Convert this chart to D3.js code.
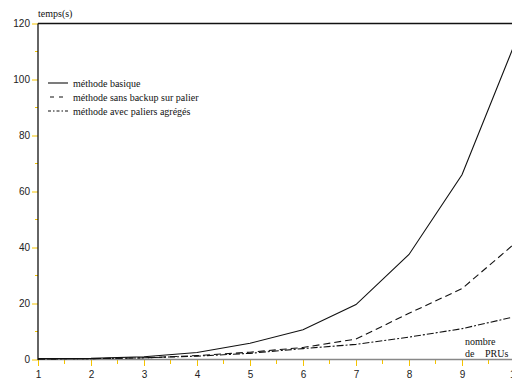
<!DOCTYPE html>
<html><head><meta charset="utf-8">
<script src="https://cdn.jsdelivr.net/npm/d3@7"></script>
<style>body{margin:0;background:#fff}svg{display:block}</style>
</head><body>
<svg id="c" width="512" height="383"></svg>
<script>
const prus = [1,2,3,4,5,6,7,8,9,10];
const basique = [0.3,0.4,1.0,2.5,5.8,10.6,19.6,37.5,66,113];
const sansBackup = [0.2,0.3,0.6,1.4,2.6,4.3,7.3,16.5,25.3,41.5];
const agreges = [0.2,0.3,0.6,1.2,2.2,3.9,5.4,8,11,15.3];
const seriesNames = ["méthode basique","méthode sans backup sur palier","méthode avec paliers agrégés"];
const yTicks = [0,20,40,60,80,100,120];
const xTicks = [1,2,3,4,5,6,7,8,9,10];

const svg = d3.select("#c");
const x = d3.scaleLinear().domain([1,10]).range([38,515]);
const y = d3.scaleLinear().domain([0,120]).range([359.5,23.5]);
const dashes = [null,"7,4","7,2,2,2"];
const series = [basique,sansBackup,agreges];
const tickCol = "#f5c400";
const sans = "'Liberation Sans', Arial, sans-serif";
const serif = "'Liberation Serif', 'Times New Roman', serif";

// minor ticks
const yMinor = d3.range(10,120,20);
svg.selectAll(".ym").data(yMinor).join("line")
  .attr("x1",35).attr("x2",38).attr("y1",d=>y(d)).attr("y2",d=>y(d))
  .attr("stroke",tickCol).attr("stroke-width",1);
const xMinor = d3.range(1.5,10,1);
svg.selectAll(".xm").data(xMinor).join("line")
  .attr("x1",d=>x(d)).attr("x2",d=>x(d)).attr("y1",360).attr("y2",364)
  .attr("stroke",tickCol).attr("stroke-width",1);

// y axis
const yAx = svg.append("g").attr("transform","translate(38,0)")
  .call(d3.axisLeft(y).tickValues(yTicks).tickSize(6).tickPadding(2));
yAx.select(".domain").remove();
yAx.selectAll(".tick line").attr("stroke",tickCol);
yAx.selectAll(".tick text").attr("font-family",sans).attr("font-size",10).attr("fill","#222");

// x axis
const xAx = svg.append("g").attr("transform","translate(0,360)")
  .call(d3.axisBottom(x).tickValues(xTicks).tickSize(6).tickPadding(5));
xAx.select(".domain").remove();
xAx.selectAll(".tick line").attr("stroke",tickCol);
xAx.selectAll(".tick text").attr("font-family",sans).attr("font-size",10).attr("fill","#222");

// frame
svg.append("line").attr("x1",38).attr("x2",512).attr("y1",359.5).attr("y2",359.5).attr("stroke","#888").attr("stroke-width",1.5);
svg.append("line").attr("x1",38).attr("x2",38).attr("y1",23.5).attr("y2",360).attr("stroke","#111").attr("stroke-width",1.3);
svg.append("line").attr("x1",38).attr("x2",512).attr("y1",23.5).attr("y2",23.5).attr("stroke","#111").attr("stroke-width",1.3);

// lines
const line = d3.line().x((d,i)=>x(prus[i])).y(d=>y(d));
series.forEach((s,k)=>{
  svg.append("path").datum(s).attr("d",line).attr("fill","none")
    .attr("stroke","#111").attr("stroke-width",1.1)
    .attr("stroke-dasharray",dashes[k]);
});

// legend
seriesNames.forEach((n,k)=>{
  const yy = 83 + k*14;
  svg.append("line").attr("x1",k==1?50:48).attr("x2",68).attr("y1",yy).attr("y2",yy)
    .attr("stroke","#111").attr("stroke-width",1.1).attr("stroke-dasharray",k==1?"4,5":(k==2?"3,2,1.5,2":null));
  svg.append("text").attr("x",73).attr("y",yy+3.5).attr("font-family",serif).attr("font-size",10).attr("fill","#111").text(n);
});

svg.append("text").attr("x",38).attr("y",17).attr("font-family",serif).attr("font-size",10).attr("fill","#111").text("temps(s)");
svg.append("text").attr("x",465).attr("y",345).attr("font-family",serif).attr("font-size",10).attr("fill","#111").text("nombre");
svg.append("text").attr("x",465).attr("y",357).attr("font-family",serif).attr("font-size",10).attr("fill","#111").text("de");
svg.append("text").attr("x",485).attr("y",357).attr("font-family",serif).attr("font-size",10).attr("fill","#111").text("PRUs");
</script>
</body></html>
